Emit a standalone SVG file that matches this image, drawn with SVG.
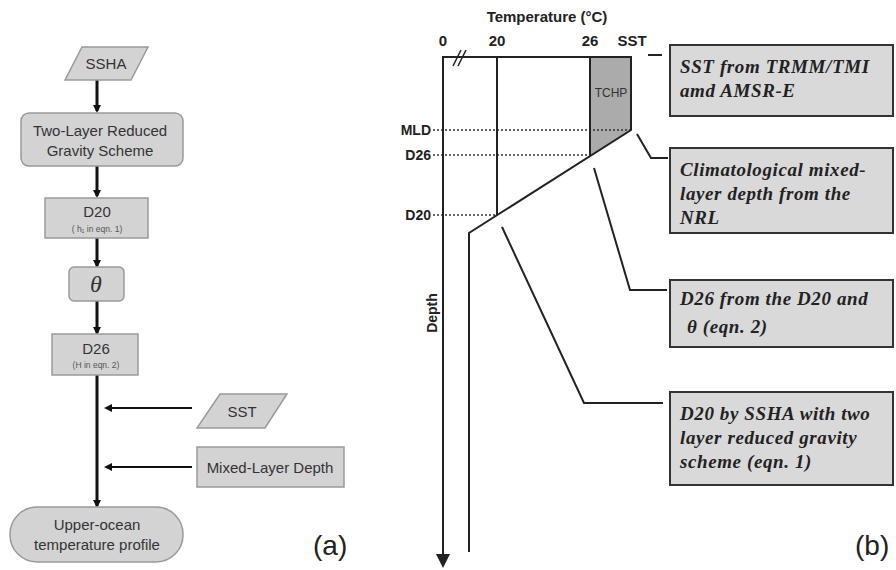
<svg xmlns="http://www.w3.org/2000/svg" width="896" height="570" viewBox="0 0 896 570">
<defs>
<style>
.nd{fill:#d3d3d3;stroke:#9a9a9a;stroke-width:1.5}
.lt{font-family:"Liberation Sans",Arial,sans-serif;font-size:15px;fill:#333;text-anchor:middle}
.sm{font-family:"Liberation Sans",Arial,sans-serif;font-size:8.5px;fill:#555;text-anchor:middle}
.fl{stroke:#111;stroke-width:3;fill:none}
.ax{stroke:#222;stroke-width:2;fill:none}
.dt{stroke:#333;stroke-width:1.5;stroke-dasharray:2 2;fill:none}
.lb{font-family:"Liberation Sans",Arial,sans-serif;font-size:15px;font-weight:bold;fill:#222}
.lb2{font-family:"Liberation Sans",Arial,sans-serif;font-size:14px;font-weight:bold;fill:#222}
.cb{fill:#d9d9d9;stroke:#333;stroke-width:2}
.ct{font-family:"Liberation Serif","Times New Roman",serif;font-size:19px;font-weight:bold;font-style:italic;fill:#222;letter-spacing:0.6px}
.ld{stroke:#222;stroke-width:2;fill:none}
.pl{font-family:"Liberation Sans",Arial,sans-serif;font-size:28px;fill:#222}
</style>
<marker id="ah" markerWidth="8" markerHeight="8" refX="6" refY="4" orient="auto" markerUnits="userSpaceOnUse" viewBox="0 0 8 8">
<path d="M0,0 L8,4 L0,8 z" fill="#111"/>
</marker>
<marker id="ah2" markerWidth="14" markerHeight="14" refX="12" refY="7" orient="auto" markerUnits="userSpaceOnUse" viewBox="0 0 14 14">
<path d="M0,0 L14,7 L0,14 z" fill="#222"/>
</marker>
</defs>
<rect width="896" height="570" fill="#fff"/>

<!-- Panel (a) -->
<g id="connectors-a">
<line class="fl" x1="97" y1="80" x2="97" y2="111" marker-end="url(#ah)"/>
<line class="fl" x1="97" y1="166" x2="97" y2="196" marker-end="url(#ah)"/>
<line class="fl" x1="97" y1="238" x2="97" y2="266" marker-end="url(#ah)"/>
<line class="fl" x1="97" y1="301" x2="97" y2="333" marker-end="url(#ah)"/>
<line class="fl" x1="97" y1="375" x2="97" y2="506" marker-end="url(#ah)"/>
<line stroke="#111" stroke-width="2" x1="192" y1="408" x2="106" y2="408" marker-end="url(#ah)"/>
<line stroke="#111" stroke-width="2" x1="192" y1="467" x2="106" y2="467" marker-end="url(#ah)"/>
</g>
<g id="ssha">
<polygon class="nd" points="82,47 148,47 131,80 65,80"/>
<text class="lt" x="106" y="69">SSHA</text>
</g>
<g id="two-layer">
<rect class="nd" x="21" y="113" width="162" height="53" rx="8"/>
<text class="lt" x="100" y="136">Two-Layer Reduced</text>
<text class="lt" x="100" y="156">Gravity Scheme</text>
</g>
<g id="d20">
<rect class="nd" x="45" y="198" width="103" height="40"/>
<text class="lt" x="97" y="217">D20</text>
<text class="sm" x="97" y="232">( h₁ in eqn. 1)</text>
</g>
<g id="theta">
<rect class="nd" x="69" y="267" width="55" height="34" rx="5"/>
<text x="96" y="292" text-anchor="middle" font-family="'Liberation Serif','Times New Roman',serif" font-style="italic" font-size="24" fill="#333">θ</text>
</g>
<g id="d26">
<rect class="nd" x="52" y="334" width="86" height="41"/>
<text class="lt" x="96" y="354">D26</text>
<text class="sm" x="96" y="368">(H in eqn. 2)</text>
</g>
<g id="sst">
<polygon class="nd" points="220,394 287,394 265,428 197,428"/>
<text class="lt" x="242" y="417">SST</text>
</g>
<g id="mld">
<rect class="nd" x="197" y="447" width="147" height="40"/>
<text class="lt" x="270" y="473">Mixed-Layer Depth</text>
</g>
<g id="profile">
<rect class="nd" x="10" y="507" width="173" height="55" rx="27"/>
<text class="lt" x="97" y="530">Upper-ocean</text>
<text class="lt" x="97" y="550">temperature profile</text>
</g>
<text class="pl" x="313" y="555">(a)</text>

<!-- Panel (b) -->
<g id="chart">
<polygon points="590,57 631,57 631,130 590,155" fill="#ababab"/>
<text x="611" y="97" text-anchor="middle" font-family="'Liberation Sans',Arial,sans-serif" font-size="12" fill="#333">TCHP</text>
<line class="dt" x1="433" y1="130" x2="631" y2="130"/>
<line class="dt" x1="433" y1="155" x2="590" y2="155"/>
<line class="dt" x1="433" y1="215" x2="497" y2="215"/>
<line class="ax" x1="443" y1="57" x2="631" y2="57"/>
<line class="ax" x1="443" y1="56" x2="443" y2="566" marker-end="url(#ah2)"/>
<line class="ax" x1="497" y1="57" x2="497" y2="215"/>
<line class="ax" x1="590" y1="57" x2="590" y2="155"/>
<polyline class="ax" points="631,56 631,130 469,233 469,552"/>
<line stroke="#222" stroke-width="1.5" x1="453" y1="66" x2="461" y2="50"/>
<line stroke="#222" stroke-width="1.5" x1="458" y1="66" x2="466" y2="50"/>
<text class="lb" x="547" y="22" text-anchor="middle">Temperature (°C)</text>
<text class="lb" x="443" y="46" text-anchor="middle">0</text>
<text class="lb" x="497" y="46" text-anchor="middle">20</text>
<text class="lb" x="590" y="46" text-anchor="middle">26</text>
<text class="lb" x="632" y="46" text-anchor="middle">SST</text>
<text class="lb2" x="431" y="135" text-anchor="end">MLD</text>
<text class="lb2" x="431" y="160" text-anchor="end">D26</text>
<text class="lb2" x="431" y="220" text-anchor="end">D20</text>
<text class="lb2" x="0" y="0" text-anchor="middle" transform="translate(437,313) rotate(-90)">Depth</text>
</g>
<g id="leaders">
<line class="ld" x1="648" y1="55" x2="662" y2="55"/>
<polyline class="ld" points="637,134 651,158 668,158"/>
<polyline class="ld" points="594,168 630,290 667,290"/>
<polyline class="ld" points="502,227 584,403 663,403"/>
</g>
<g id="box-sst">
<rect class="cb" x="670" y="45" width="223" height="71"/>
<text class="ct" x="680" y="73">SST from TRMM/TMI</text>
<text class="ct" x="680" y="97">amd AMSR-E</text>
</g>
<g id="box-mld">
<rect class="cb" x="670" y="148" width="223" height="85"/>
<text class="ct" x="680" y="176">Climatological mixed-</text>
<text class="ct" x="680" y="200">layer depth from the</text>
<text class="ct" x="680" y="224">NRL</text>
</g>
<g id="box-d26">
<rect class="cb" x="670" y="280" width="223" height="67"/>
<text class="ct" x="680" y="305">D26 from the D20 and</text>
<text class="ct" x="687" y="333">θ (eqn. 2)</text>
</g>
<g id="box-d20">
<rect class="cb" x="670" y="392" width="223" height="93"/>
<text class="ct" x="680" y="420">D20 by SSHA with two</text>
<text class="ct" x="680" y="444">layer reduced gravity</text>
<text class="ct" x="680" y="468">scheme (eqn. 1)</text>
</g>
<text class="pl" x="855" y="555">(b)</text>
</svg>
